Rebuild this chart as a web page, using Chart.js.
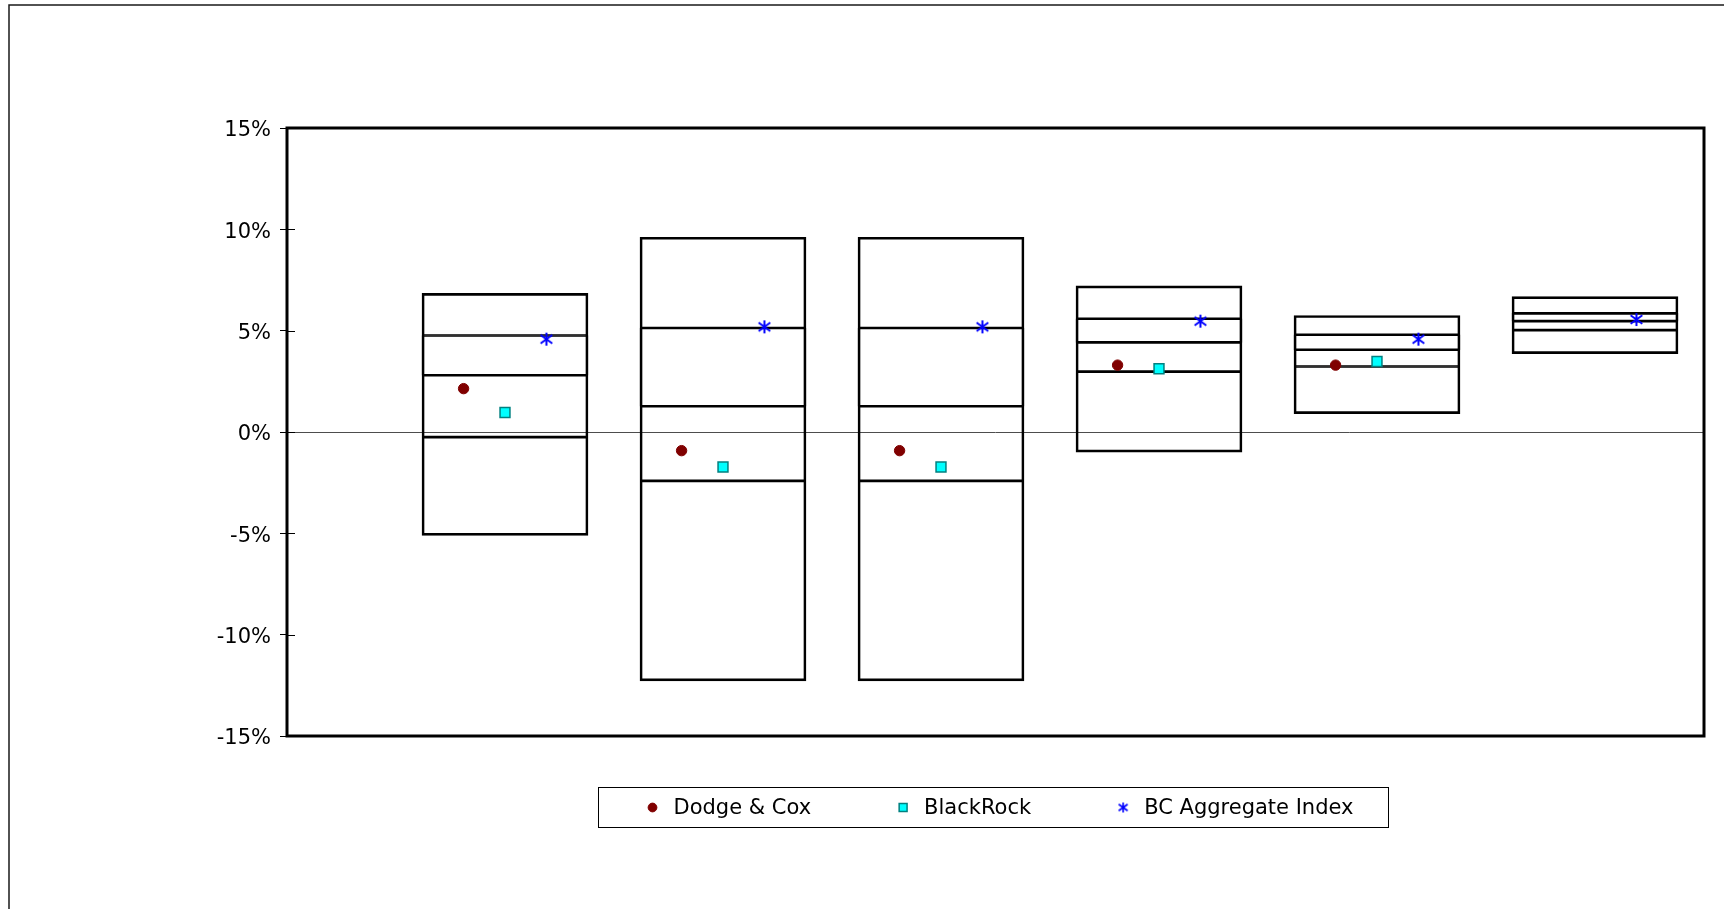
<!DOCTYPE html>
<html>
<head>
<meta charset="utf-8">
<script src="https://cdn.jsdelivr.net/npm/chart.js@4/dist/chart.umd.min.js"></script>
<style>
  html, body { margin: 0; padding: 0; background: #ffffff; }
  #wrap { position: relative; width: 1724px; height: 909px; }
</style>
</head>
<body>
<div id="wrap"><canvas id="c" width="1724" height="909"></canvas></div>
<script>
// Slot positions of the six return ranges along the horizontal axis
const slots = [1, 2, 3, 4, 5, 6];

// Universe ranges (percent): top, 25th, median, 75th, bottom
const rangeTop    = [6.84, 9.61, 9.61, 7.21, 5.75, 6.68];
const rangeP25    = [4.76, 5.13, 5.13, 5.59, 4.80, 5.85];
const rangeMedian = [2.80, 1.27, 1.27, 4.42, 4.06, 5.47];
const rangeP75    = [-0.25, -2.41, -2.41, 2.98, 3.23, 5.03];
const rangeBottom = [-5.10, -12.28, -12.28, -0.99, 0.91, 3.87];

// Manager and index returns (percent)
const dodgeCox    = [2.14, -0.92, -0.92, 3.30, 3.30, null];
const blackRock   = [0.96, -1.73, -1.73, 3.12, 3.48, null];
const bcAggregate = [4.58, 5.19, 5.19, 5.47, 4.58, 5.55];

const seriesNames = ['Dodge & Cox', 'BlackRock', 'BC Aggregate Index'];

// Y axis range and step (percent)
const yMin = -15, yMax = 15, yStep = 5;

const FONT = 'DejaVu Sans';
Chart.defaults.font.family = FONT;
Chart.defaults.color = '#000000';

// Six-armed star marker (X with a vertical stroke)
function starMark(size, lw) {
  const c = document.createElement('canvas');
  c.width = c.height = size;
  const g = c.getContext('2d');
  g.strokeStyle = '#0000FF';
  g.lineWidth = lw;
  const m = size / 2, a = size / 2 - 1;
  g.beginPath();
  g.moveTo(m - a * 0.9, m - a * 0.65); g.lineTo(m + a * 0.9, m + a * 0.65);
  g.moveTo(m + a * 0.9, m - a * 0.65); g.lineTo(m - a * 0.9, m + a * 0.65);
  g.moveTo(m, m - a); g.lineTo(m, m + a);
  g.stroke();
  return c;
}
const starBig = starMark(15, 2);
const starSmall = starMark(12, 1.6);

// Horizontal offsets of the three markers inside each range box
const markerOffset = [-0.19, 0, 0.19];

const pts = (arr, off) => slots
  .map((s, i) => ({ x: s + off, y: arr[i] }))
  .filter(p => p.y !== null);

const seg = (lo, hi) => slots.map((s, i) => ({ x: s, y: [lo[i], hi[i]] }));

const boxCommon = {
  type: 'bar',
  backgroundColor: 'rgba(0,0,0,0)',
  borderColor: '#000000',
  borderSkipped: false,
  barThickness: 166,
  grouped: false,
  order: 2
};

const datasets = [
  // full box outline
  Object.assign({}, boxCommon, { data: seg(rangeBottom, rangeTop), borderWidth: 2 }),
  // internal dividers (percentile boundaries)
  Object.assign({}, boxCommon, { data: seg(rangeP25, rangeTop), borderWidth: { top: 0, bottom: 1, left: 0, right: 0 } }),
  Object.assign({}, boxCommon, { data: seg(rangeMedian, rangeP25), borderWidth: { top: 1, bottom: 1, left: 1, right: 1 } }),
  Object.assign({}, boxCommon, { data: seg(rangeP75, rangeMedian), borderWidth: { top: 1, bottom: 1, left: 0, right: 0 } }),
  Object.assign({}, boxCommon, { data: seg(rangeBottom, rangeP75), borderWidth: { top: 1, bottom: 0, left: 0, right: 0 } }),
  {
    type: 'scatter', label: seriesNames[0], data: pts(dodgeCox, markerOffset[0]),
    pointStyle: 'circle', pointRadius: 5.2, pointBackgroundColor: '#800000',
    pointBorderColor: '#800000', pointBorderWidth: 1, order: 0
  },
  {
    type: 'scatter', label: seriesNames[1], data: pts(blackRock, markerOffset[1]),
    pointStyle: 'rect', pointRadius: 7, pointBackgroundColor: '#00FFFF',
    pointBorderColor: '#008080', pointBorderWidth: 1.5, order: 0
  },
  {
    type: 'scatter', label: seriesNames[2], data: pts(bcAggregate, markerOffset[2]),
    pointStyle: starBig, pointRadius: 7, order: 0
  }
];

// Outer chart border, plot frame, inner tick marks and the boxed legend
const decorations = {
  id: 'decorations',
  beforeDraw(chart) {
    const ctx = chart.ctx;
    ctx.save();
    ctx.strokeStyle = '#1a1a1a';
    ctx.lineWidth = 1.5;
    ctx.beginPath();
    ctx.moveTo(9, chart.height);
    ctx.lineTo(9, 5);
    ctx.lineTo(chart.width, 5);
    ctx.stroke();
    ctx.restore();
  },
  afterDraw(chart) {
    const ctx = chart.ctx;
    const a = chart.chartArea;
    const ys = chart.scales.y;
    ctx.save();
    // inner halves of y tick marks
    ctx.strokeStyle = '#000000';
    ctx.lineWidth = 1;
    ys.ticks.forEach(t => {
      const y = Math.round(ys.getPixelForValue(t.value)) + 0.5;
      ctx.beginPath();
      ctx.moveTo(a.left, y);
      ctx.lineTo(a.left + 8, y);
      ctx.stroke();
    });
    // plot frame
    ctx.lineWidth = 3;
    ctx.strokeRect(a.left, a.top, a.right - a.left, a.bottom - a.top);

    // legend
    ctx.font = '21px "' + FONT + '"';
    ctx.textBaseline = 'middle';
    ctx.textAlign = 'left';
    const markerToText = 21, textToNext = 92, padL = 54, padR = 35;
    const widths = seriesNames.map(n => ctx.measureText(n).width);
    let total = padL + padR;
    widths.forEach((w, i) => { total += markerToText + w + (i < widths.length - 1 ? textToNext : 0); });
    const cx = (a.left + a.right) / 2;
    const boxL = Math.round(cx - total / 2) - 2.5;
    const boxT = Math.round(a.bottom + 51) + 0.5;
    const boxH = 40;
    ctx.lineWidth = 1;
    ctx.strokeStyle = '#000000';
    ctx.strokeRect(boxL, boxT, Math.round(total), boxH);
    const my = boxT + boxH / 2;
    let x = boxL + padL;
    const legendMarks = [
      { pointStyle: 'circle', radius: 4.4, fill: '#800000', stroke: '#800000', bw: 1 },
      { pointStyle: 'rect', radius: 5.6, fill: '#00FFFF', stroke: '#008080', bw: 1.5 },
      { pointStyle: starSmall, radius: 6, fill: '#0000FF', stroke: '#0000FF', bw: 1 }
    ];
    seriesNames.forEach((name, i) => {
      const m = legendMarks[i];
      ctx.fillStyle = m.fill;
      ctx.strokeStyle = m.stroke;
      ctx.lineWidth = m.bw;
      Chart.helpers.drawPoint(ctx, { pointStyle: m.pointStyle, radius: m.radius, rotation: 0, borderWidth: m.bw }, x, my);
      ctx.fillStyle = '#000000';
      ctx.fillText(name, x + markerToText, my + 1);
      x += markerToText + widths[i] + textToNext;
    });
    ctx.restore();
  }
};

new Chart(document.getElementById('c'), {
  type: 'bar',
  data: { datasets },
  options: {
    responsive: false,
    animation: false,
    devicePixelRatio: 1,
    layout: { padding: { left: 0, top: 128, right: 20, bottom: 173 } },
    plugins: { legend: { display: false }, tooltip: { enabled: false } },
    scales: {
      x: { type: 'linear', min: 0, max: 6.5, offset: false, display: false },
      y: {
        min: yMin, max: yMax,
        afterFit(scale) { scale.width = 287; },
        border: { display: false },
        grid: {
          color: c => (c.tick && c.tick.value === 0 ? '#4d4d4d' : 'rgba(0,0,0,0)'),
          lineWidth: 1,
          drawTicks: true,
          tickLength: 7,
          tickColor: '#000000',
          tickWidth: 1
        },
        ticks: {
          stepSize: yStep,
          padding: 9,
          labelOffset: 3,
          color: '#000000',
          font: { family: FONT, size: 21 },
          callback: v => v + '%'
        }
      }
    }
  },
  plugins: [decorations]
});
</script>
</body>
</html>
